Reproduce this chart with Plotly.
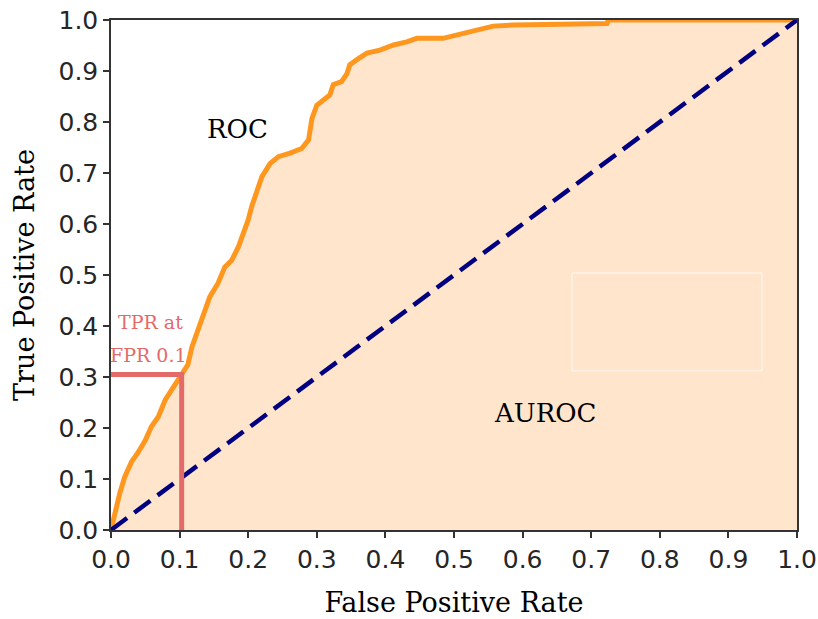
import plotly.graph_objects as go

# ROC curve
fpr = [0, 0.006, 0.013, 0.020, 0.030, 0.039, 0.050, 0.059, 0.069, 0.079,
       0.088, 0.098, 0.105, 0.112, 0.118, 0.125, 0.134, 0.144, 0.156, 0.166,
       0.176, 0.186, 0.193, 0.200, 0.205, 0.212, 0.220, 0.232, 0.244, 0.261,
       0.278, 0.288, 0.291, 0.293, 0.300, 0.309, 0.319, 0.324, 0.336, 0.344,
       0.348, 0.358, 0.373, 0.392, 0.412, 0.431, 0.446, 0.484, 0.499, 0.519,
       0.538, 0.557, 0.586, 0.723, 0.725, 1.0]
tpr = [0, 0.039, 0.073, 0.104, 0.134, 0.151, 0.176, 0.203, 0.222, 0.255,
       0.275, 0.294, 0.310, 0.324, 0.359, 0.386, 0.425, 0.457, 0.484, 0.516,
       0.529, 0.556, 0.582, 0.608, 0.634, 0.660, 0.693, 0.719, 0.732, 0.739,
       0.748, 0.765, 0.785, 0.807, 0.833, 0.843, 0.853, 0.873, 0.879, 0.895,
       0.912, 0.922, 0.935, 0.941, 0.951, 0.957, 0.964, 0.964, 0.969, 0.976,
       0.980, 0.988, 0.990, 0.993, 1.0, 1.0]

chance_x = [0, 1]
chance_y = [0, 1]

marker_x = [0, 0.103, 0.103]
marker_y = [0.305, 0.305, 0]

tick_vals = [0.0, 0.1, 0.2, 0.3, 0.4, 0.5, 0.6, 0.7, 0.8, 0.9, 1.0]
tick_text = ["0.0", "0.1", "0.2", "0.3", "0.4", "0.5", "0.6", "0.7", "0.8", "0.9", "1.0"]

fig = go.Figure()
fig.add_trace(go.Scatter(x=fpr, y=tpr, mode="lines", fill="tozeroy",
                         fillcolor="#FFE5CC",
                         line=dict(color="rgb(255,150,30)", width=5),
                         hoverinfo="skip"))
fig.add_trace(go.Scatter(x=chance_x, y=chance_y, mode="lines",
                         line=dict(color="#000080", width=4.5, dash="20px,9px"),
                         hoverinfo="skip"))
fig.add_trace(go.Scatter(x=marker_x, y=marker_y, mode="lines",
                         line=dict(color="#E46A6A", width=5),
                         hoverinfo="skip"))

serif = "DejaVu Serif"
sans = "DejaVu Sans"

fig.add_annotation(x=0.184, y=0.786, text="ROC", showarrow=False,
                   font=dict(family=serif, size=26, color="black"))
fig.add_annotation(x=0.633, y=0.229, text="AUROC", showarrow=False,
                   font=dict(family=serif, size=26, color="black"))
fig.add_annotation(x=0.057, y=0.408, text="TPR at", showarrow=False,
                   font=dict(family=serif, size=19, color="#E46A6A"))
fig.add_annotation(x=0.055, y=0.343, text="FPR 0.1", showarrow=False,
                   font=dict(family=serif, size=19, color="#E46A6A"))

# empty legend frame
fig.add_shape(type="rect", x0=0.672, x1=0.949, y0=0.312, y1=0.504,
              line=dict(color="rgba(255,255,255,0.8)", width=1), layer="above")

axis_common = dict(range=[0, 1], tickvals=tick_vals, ticktext=tick_text,
                   showgrid=False, zeroline=False, showline=True, mirror=True,
                   linecolor="#333333", linewidth=1.5, ticks="outside",
                   ticklen=6, tickwidth=1.5, tickcolor="#333333",
                   automargin=False,
                   tickfont=dict(family=sans, size=25, color="#262626"))

fig.update_layout(
    width=818, height=619,
    margin=dict(l=111, r=21, t=20, b=89),
    paper_bgcolor="white", plot_bgcolor="white",
    showlegend=False,
    xaxis=dict(**axis_common,
               title=dict(text="False Positive Rate", standoff=20,
                          font=dict(family=serif, size=27, color="black"))),
    yaxis=dict(**axis_common,
               title=dict(text="True Positive Rate", standoff=16,
                          font=dict(family=serif, size=27, color="black"))),
)

fig.write_html("out.html")
